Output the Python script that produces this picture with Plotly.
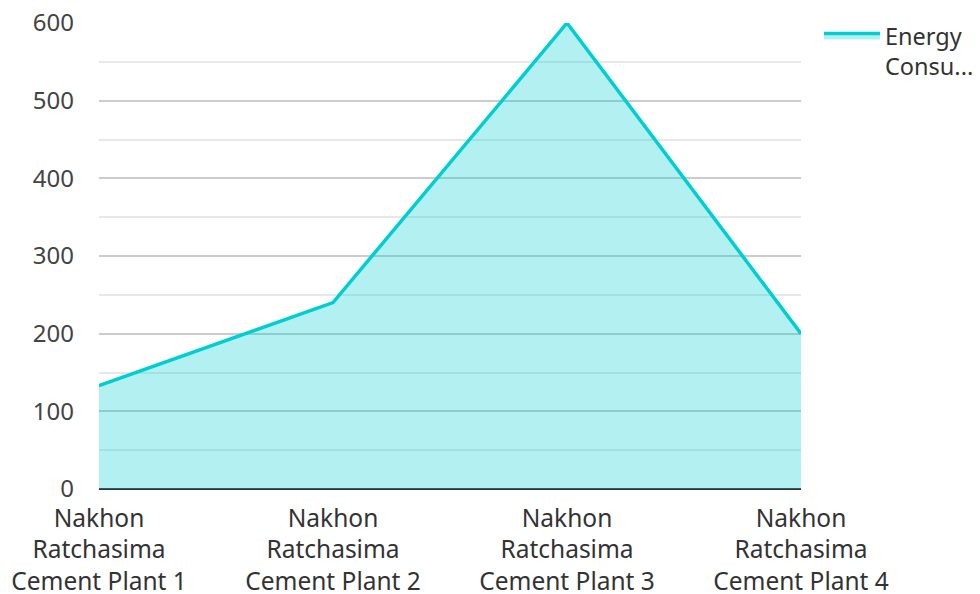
import plotly.graph_objects as go

categories = [
    "Nakhon<br>Ratchasima<br>Cement Plant 1",
    "Nakhon<br>Ratchasima<br>Cement Plant 2",
    "Nakhon<br>Ratchasima<br>Cement Plant 3",
    "Nakhon<br>Ratchasima<br>Cement Plant 4",
]
energy_values = [133, 240, 600, 200]
series_name = "Energy<br>Consu...\u00a0\u00a0\u00a0"

fig = go.Figure()
fig.add_trace(go.Scatter(
    x=categories,
    y=energy_values,
    name=series_name,
    mode="lines",
    fill="tozeroy",
    line=dict(color="rgb(0,206,209)", width=3.5),
    fillcolor="rgba(0,206,209,0.3)",
    showlegend=True,
))

font_family = "Noto Sans"
fig.update_layout(
    width=972,
    height=586,
    margin=dict(l=91, r=179, t=15, b=105, autoexpand=False),
    plot_bgcolor="white",
    paper_bgcolor="white",
    font=dict(family=font_family, size=24.5, color="#333333"),
    showlegend=True,
    legend=dict(
        x=1.0256, xanchor="left", y=1.0197, yanchor="top",
        xref="paper", yref="paper",
        font=dict(size=23.5, color="#333333"),
        itemwidth=56,
        valign="top",
        bgcolor="rgba(0,0,0,0)",
    ),
    xaxis=dict(
        type="category",
        range=[0, 3],
        showgrid=False,
        showline=False,
        zeroline=False,
        ticks="",
        ticklabelstandoff=12,
        ticklabeloverflow="allow",
        tickfont=dict(size=24.5, color="#333333"),
        automargin=False,
    ),
    yaxis=dict(
        range=[0, 600],
        dtick=100,
        showgrid=True,
        gridcolor="#cccccc",
        gridwidth=1.5,
        minor=dict(dtick=50, showgrid=True, gridcolor="#e8e8e8", gridwidth=1.5),
        zeroline=True,
        zerolinecolor="#333333",
        zerolinewidth=2,
        showline=False,
        ticks="",
        ticklabelstandoff=24,
        ticklabeloverflow="allow",
        tickfont=dict(size=24, color="#444444"),
        automargin=False,
    ),
)

fig.write_html("out.html")
